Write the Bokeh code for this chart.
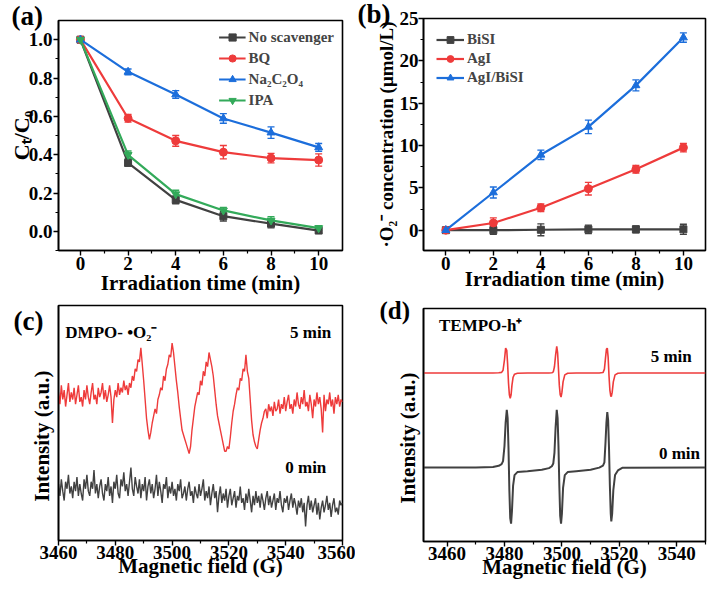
from bokeh.plotting import figure
from bokeh.layouts import column, row
from bokeh.models import (ColumnDataSource, Whisker, TeeHead, Legend, LegendItem,
                          Label, FixedTicker, NumeralTickFormatter, CustomJSTickFormatter)
from bokeh.embed import file_html
from bokeh.resources import INLINE

FONT = "Liberation Serif"
GRAY = "#414141"
RED = "#EE3B3B"
BLUE = "#1C6EDB"
GREEN = "#33AA5A"
NB = "\u00a0" * 5  # shifts the centred y label a little downward, as in the original

# ---------------- (a) data ----------------
time_a = [0, 2, 4, 6, 8, 10]
noscav = [1.0, 0.357, 0.164, 0.079, 0.040, 0.004]
noscav_err = [0.01, 0.015, 0.02, 0.025, 0.022, 0.012]
bq = [1.0, 0.590, 0.472, 0.413, 0.382, 0.372]
bq_err = [0.01, 0.02, 0.028, 0.035, 0.025, 0.032]
na2c2o4 = [1.0, 0.832, 0.714, 0.589, 0.515, 0.438]
na2c2o4_err = [0.01, 0.015, 0.02, 0.025, 0.03, 0.02]
ipa = [1.0, 0.399, 0.194, 0.109, 0.057, 0.017]
ipa_err = [0.01, 0.02, 0.02, 0.015, 0.02, 0.012]
labels_a = ["No scavenger", "BQ", "Na\u2082C\u2082O\u2084", "IPA"]

# ---------------- (b) data ----------------
time_b = [0, 2, 4, 6, 8, 10]
bisi = [0.0, 0.0, 0.05, 0.1, 0.1, 0.1]
bisi_err = [0.2, 0.5, 0.7, 0.5, 0.4, 0.6]
agi = [0.0, 0.85, 2.65, 4.9, 7.2, 9.75]
agi_err = [0.2, 0.6, 0.45, 0.75, 0.45, 0.5]
agibisi = [0.0, 4.45, 8.9, 12.2, 17.1, 22.75]
agibisi_err = [0.2, 0.65, 0.55, 0.8, 0.65, 0.55]
labels_b = ["BiSI", "AgI", "AgI/BiSI"]

# ---------------- (c) data: DMPO spectra, 0.5 G steps from 3460 to 3560 ----------------
field_c = [3460 + 0.5 * i for i in range(201)]
dmpo_5min = [
    63, 58, 66, 60, 64, 57, 62, 67, 59, 63,
    60, 65, 58, 62, 66, 59, 61, 57, 64, 60,
    66, 61, 58, 63, 67, 60, 62, 58, 65, 61,
    63, 67, 60, 64, 59, 62, 66, 61, 50, 60,
    64, 61, 67, 62, 65, 63, 68, 64, 66, 62,
    67, 65, 70, 68, 73, 72, 77, 76, 82, 75,
    68, 60, 52, 47, 43, 46, 50, 53, 56, 54,
    60, 62, 65, 64, 70, 68, 73, 75, 79, 78,
    84, 80, 74, 68, 63, 57, 52, 47, 45, 43,
    41, 39, 37, 40, 47, 52, 57, 60, 63, 62,
    68, 66, 72, 70, 76, 74, 80, 77, 74, 70,
    64, 58, 53, 50, 47, 44, 41, 38, 38, 40,
    39, 44, 50, 55, 58, 62, 65, 64, 69, 68,
    73, 72, 79, 72, 69, 60, 51, 45, 42, 40,
    39, 43, 47, 50, 52, 55, 56, 52, 58, 55,
    57, 53, 59, 55, 56, 60, 54, 58, 56, 61,
    55, 59, 62, 56, 58, 54, 60, 57, 63, 58,
    56, 61, 58, 64, 57, 59, 55, 62, 58, 52,
    60, 57, 63, 58, 61, 56, 46, 62, 55, 60,
    58, 63, 57, 60, 54, 61, 58, 62, 57, 60,
    59]
dmpo_0min = [
    24, 19, 26, 21, 17, 25, 22, 28, 20, 23,
    18, 25, 21, 27, 19, 24, 20, 17, 26, 22,
    28, 21, 19, 25, 22, 30, 20, 24, 18, 23,
    26, 20, 17, 24, 21, 27, 19, 23, 16, 25,
    22, 28, 20, 18, 26, 23, 29, 21, 24, 19,
    25, 31, 22, 19, 27, 23, 20, 26, 18, 24,
    21, 27, 17, 23, 26, 20, 24, 18, 22, 28,
    19, 25, 21, 16, 24, 22, 27, 18, 23, 20,
    25, 19, 22, 17, 24, 21, 26, 18, 20, 23,
    17, 22, 25, 19, 21, 16, 23, 20, 18, 24,
    19, 22, 26, 17, 21, 18, 23, 15, 20, 24,
    18, 21, 12, 19, 23, 16, 20, 17, 22, 14,
    19, 22, 15, 18, 21, 14, 19, 17, 23, 16,
    18, 13, 20, 16, 22, 17, 12, 19, 15, 21,
    16, 19, 14, 20, 17, 13, 18, 21, 15, 19,
    14, 17, 20, 13, 18, 16, 21, 15, 12, 18,
    16, 19, 13, 17, 20, 14, 18, 15, 11, 17,
    14, 18, 12, 16, 6, 15, 19, 13, 17, 12,
    15, 18, 11, 16, 9, 14, 17, 12, 15, 19,
    13, 16, 10, 15, 18, 12, 14, 11, 17, 15,
    16]

# ---------------- (d) data: TEMPO spectra ----------------
field_d = [3452, 3470, 3476, 3478, 3479, 3479.5, 3480.0, 3480.4, 3480.8, 3481.1,
           3481.4, 3481.7, 3482.0, 3482.3, 3482.6, 3483.0, 3483.5, 3484.5, 3488, 3493,
           3495.5, 3496.5, 3497.0, 3497.4, 3497.8, 3498.2, 3498.5, 3498.8, 3499.1, 3499.4,
           3499.7, 3500.0, 3500.4, 3501.0, 3502.0, 3505, 3510, 3513, 3514.3, 3514.8,
           3515.2, 3515.5, 3515.8, 3516.1, 3516.4, 3516.7, 3517.0, 3517.2, 3517.5, 3517.9,
           3518.5, 3519.5, 3521, 3550]
tempo_0min = [31.8, 31.8, 32.0, 32.5, 33.2, 34.5, 41, 51, 56.5, 53,
              40, 22, 10, 7.7, 13, 24, 28.5, 29.8, 30.2, 30.8,
              31.5, 32.3, 33.5, 38, 49, 56.5, 53, 41, 24, 11,
              7.7, 12, 23, 28.5, 29.8, 30.2, 30.8, 31.7, 32.6, 34,
              43, 51, 55.5, 52, 40, 24, 12, 8.6, 12, 22,
              28.5, 30.5, 31.6, 31.8]
tempo_5min = [72.3, 72.3, 72.3, 72.4, 72.6, 73.5, 78, 83, 82, 76,
              68, 63, 61.5, 63, 67, 70.5, 71.8, 72.2, 72.3, 72.3,
              72.3, 72.4, 72.8, 75, 80, 83.8, 81, 74, 67, 63,
              62, 64, 68.5, 71.5, 72.2, 72.3, 72.3, 72.3, 72.5, 74,
              79, 82.5, 83, 79, 71, 65, 62.5, 62.2, 64, 68.5,
              71.5, 72.2, 72.3, 72.3]


def style(p, xlabel, ylabel):
    p.grid.visible = False
    p.outline_line_color = "black"
    p.outline_line_width = 1.6
    p.outline_line_alpha = 1
    p.background_fill_color = "white"
    p.border_fill_color = "white"
    for ax in (p.xaxis[0], p.yaxis[0]):
        ax.axis_line_width = 1.6
        ax.axis_line_color = "black"
        ax.major_tick_in = 0
        ax.major_tick_out = 5
        ax.minor_tick_in = 0
        ax.minor_tick_out = 3
        ax.major_tick_line_width = 1.4
        ax.minor_tick_line_width = 1.2
        ax.major_label_text_font = FONT
        ax.major_label_text_font_style = "bold"
        ax.major_label_text_font_size = "19px"
        ax.major_label_text_color = "black"
        ax.major_label_standoff = 1
        ax.axis_label_text_font = FONT
        ax.axis_label_text_font_style = "bold"
        ax.axis_label_text_font_size = "21px"
        ax.axis_label_text_color = "black"
        ax.axis_label_standoff = 0
    p.xaxis[0].axis_label = xlabel
    p.yaxis[0].axis_label = ylabel


def title_label(p, text, offset, standoff, size="27px"):
    p.title.text = text
    p.title.align = "left"
    p.title.vertical_align = "bottom"
    p.title.offset = offset
    p.title.standoff = standoff
    p.title.text_font = FONT
    p.title.text_font_style = "bold"
    p.title.text_font_size = size
    p.title.text_color = "black"


def series(p, xs, ys, errs, color, marker, size):
    src = ColumnDataSource(dict(x=xs, y=ys,
                                lo=[a - e for a, e in zip(ys, errs)],
                                hi=[a + e for a, e in zip(ys, errs)]))
    ln = p.line("x", "y", source=src, line_color=color, line_width=2.2)
    w = Whisker(source=src, base="x", lower="lo", upper="hi", dimension="height",
                line_color=color, line_width=1.4,
                upper_head=TeeHead(size=7, line_color=color, line_width=1.4),
                lower_head=TeeHead(size=7, line_color=color, line_width=1.4))
    p.add_layout(w)
    sc = p.scatter("x", "y", source=src, marker=marker, size=size,
                   fill_color=color, line_color=color)
    return [ln, sc]


# ---------------- panel (a) ----------------
pa = figure(width=355, height=300, x_range=(-0.92, 11.0), y_range=(-0.1, 1.1),
            output_backend="svg", toolbar_location=None,
            min_border_left=58, min_border_right=13, min_border_top=20, min_border_bottom=50)
style(pa, "Irradiation time (min)", "C\u209c/C\u2080")
pa.yaxis[0].axis_label_text_font_size = "22px"
pa.yaxis[0].axis_label_standoff = -8
pa.xaxis[0].major_label_standoff = 1
pa.xaxis[0].axis_label_standoff = -2
pa.xaxis[0].ticker = FixedTicker(ticks=[0, 2, 4, 6, 8, 10], minor_ticks=[1, 3, 5, 7, 9])
pa.yaxis[0].ticker = FixedTicker(ticks=[0, 0.2, 0.4, 0.6, 0.8, 1.0],
                                 minor_ticks=[-0.1, 0.1, 0.3, 0.5, 0.7, 0.9])
pa.yaxis[0].formatter = NumeralTickFormatter(format="0.0")
ra = [series(pa, time_a, noscav, noscav_err, GRAY, "square", 7),
      series(pa, time_a, bq, bq_err, RED, "circle", 8),
      series(pa, time_a, na2c2o4, na2c2o4_err, BLUE, "triangle", 8),
      series(pa, time_a, ipa, ipa_err, GREEN, "inverted_triangle", 8)]
leg_a = Legend(items=[LegendItem(label=l, renderers=r) for l, r in zip(labels_a, ra)],
               location="top_right", margin=0, padding=8, spacing=3,
               glyph_width=27, glyph_height=18, label_height=18, label_standoff=3,
               label_text_font=FONT, label_text_font_style="bold", label_text_font_size="15px",
               border_line_alpha=0, background_fill_alpha=0)
pa.add_layout(leg_a)
title_label(pa, "(a)", -47, -20)

# ---------------- panel (b) ----------------
pb = figure(width=355, height=295, x_range=(-0.94, 10.93), y_range=(-2.4, 25),
            output_backend="svg", toolbar_location=None,
            min_border_left=68, min_border_right=3, min_border_top=18, min_border_bottom=45)
style(pb, "Irradiation time (min)", "\u00b7O\u2082\u207b concentration (\u03bcmol/L)")
pb.yaxis[0].axis_label_text_font_size = "19px"
pb.yaxis[0].major_label_standoff = 0
pb.xaxis[0].major_label_standoff = 1
pb.xaxis[0].axis_label_standoff = -6
pb.xaxis[0].ticker = FixedTicker(ticks=[0, 2, 4, 6, 8, 10], minor_ticks=[1, 3, 5, 7, 9])
pb.yaxis[0].ticker = FixedTicker(ticks=[0, 5, 10, 15, 20, 25],
                                 minor_ticks=[2.5, 7.5, 12.5, 17.5, 22.5])
rb = [series(pb, time_b, bisi, bisi_err, GRAY, "square", 7),
      series(pb, time_b, agi, agi_err, RED, "circle", 8),
      series(pb, time_b, agibisi, agibisi_err, BLUE, "triangle", 8)]
leg_b = Legend(items=[LegendItem(label=l, renderers=r) for l, r in zip(labels_b, rb)],
               location="top_left", margin=0, padding=13, spacing=2,
               glyph_width=28, glyph_height=17, label_height=17, label_standoff=3,
               label_text_font=FONT, label_text_font_style="bold", label_text_font_size="15px",
               border_line_alpha=0, background_fill_alpha=0)
pb.add_layout(leg_b)
title_label(pb, "(b)", -66, -20)

# ---------------- panel (c) ----------------
pc = figure(width=355, height=289, x_range=(3460, 3560), y_range=(0, 100),
            output_backend="svg", toolbar_location=None,
            min_border_left=58, min_border_right=12, min_border_top=5, min_border_bottom=49)
style(pc, "Magnetic field (G)", "Intensity (a.u.)" + NB)
pc.xaxis[0].axis_label_standoff = -8
pc.xaxis[0].major_label_standoff = 0
pc.xaxis[0].ticker = FixedTicker(ticks=[3460, 3480, 3500, 3520, 3540, 3560],
                                 minor_ticks=[3470, 3490, 3510, 3530, 3550])
# panel tag "(c)" is drawn as the single tick label of the left axis
pc.yaxis[0].ticker = FixedTicker(ticks=[98], minor_ticks=[])
pc.yaxis[0].formatter = CustomJSTickFormatter(code="return '(c)';")
pc.yaxis[0].major_tick_out = 0
pc.yaxis[0].major_label_standoff = 15
pc.yaxis[0].major_label_text_font_size = "27px"
pc.yaxis[0].major_label_orientation = "horizontal"
pc.yaxis[0].axis_label_standoff = -43
pc.line(field_c, dmpo_5min, line_color=RED, line_width=1.4)
pc.line(field_c, dmpo_0min, line_color=GRAY, line_width=1.4)
for txt, x, y, al in [("DMPO- \u2022O\u2082\u207b", 3462.4, 88.6, "left"),
                      ("5 min", 3556, 88.6, "right"),
                      ("0 min", 3554.3, 31.2, "right")]:
    pc.add_layout(Label(x=x, y=y, text=txt, text_font=FONT, text_font_style="bold",
                        text_font_size="17px", text_align=al, text_baseline="middle",
                        text_color="black"))

# ---------------- panel (d) ----------------
pd_ = figure(width=355, height=294, x_range=(3451.8, 3550), y_range=(0, 100),
             output_backend="svg", toolbar_location=None,
             min_border_left=63, min_border_right=5, min_border_top=13, min_border_bottom=48)
style(pd_, "Magnetic field (G)", "Intensity (a.u.)" + NB)
pd_.xaxis[0].axis_label_standoff = -8
pd_.xaxis[0].major_label_standoff = 0
pd_.xaxis[0].ticker = FixedTicker(ticks=[3460, 3480, 3500, 3520, 3540],
                                  minor_ticks=[3470, 3490, 3510, 3530, 3550])
pd_.yaxis[0].ticker = FixedTicker(ticks=[], minor_ticks=[])
pd_.yaxis[0].axis_label_standoff = 4
pd_.line(field_d, tempo_5min, line_color=RED, line_width=1.6)
pd_.line(field_d, tempo_0min, line_color=GRAY, line_width=2.0)
for txt, x, y, al in [("TEMPO-h\u207a", 3457.2, 92.8, "left"),
                      ("5 min", 3545.2, 79.2, "right"),
                      ("0 min", 3548.1, 37.6, "right")]:
    pd_.add_layout(Label(x=x, y=y, text=txt, text_font=FONT, text_font_style="bold",
                         text_font_size="17px", text_align=al, text_baseline="middle",
                         text_color="black"))
title_label(pd_, "(d)", -44, -30, "25px")

layout = row(column(pa, pc), column(pb, pd_))
open("out.html", "w").write(file_html(layout, INLINE))
